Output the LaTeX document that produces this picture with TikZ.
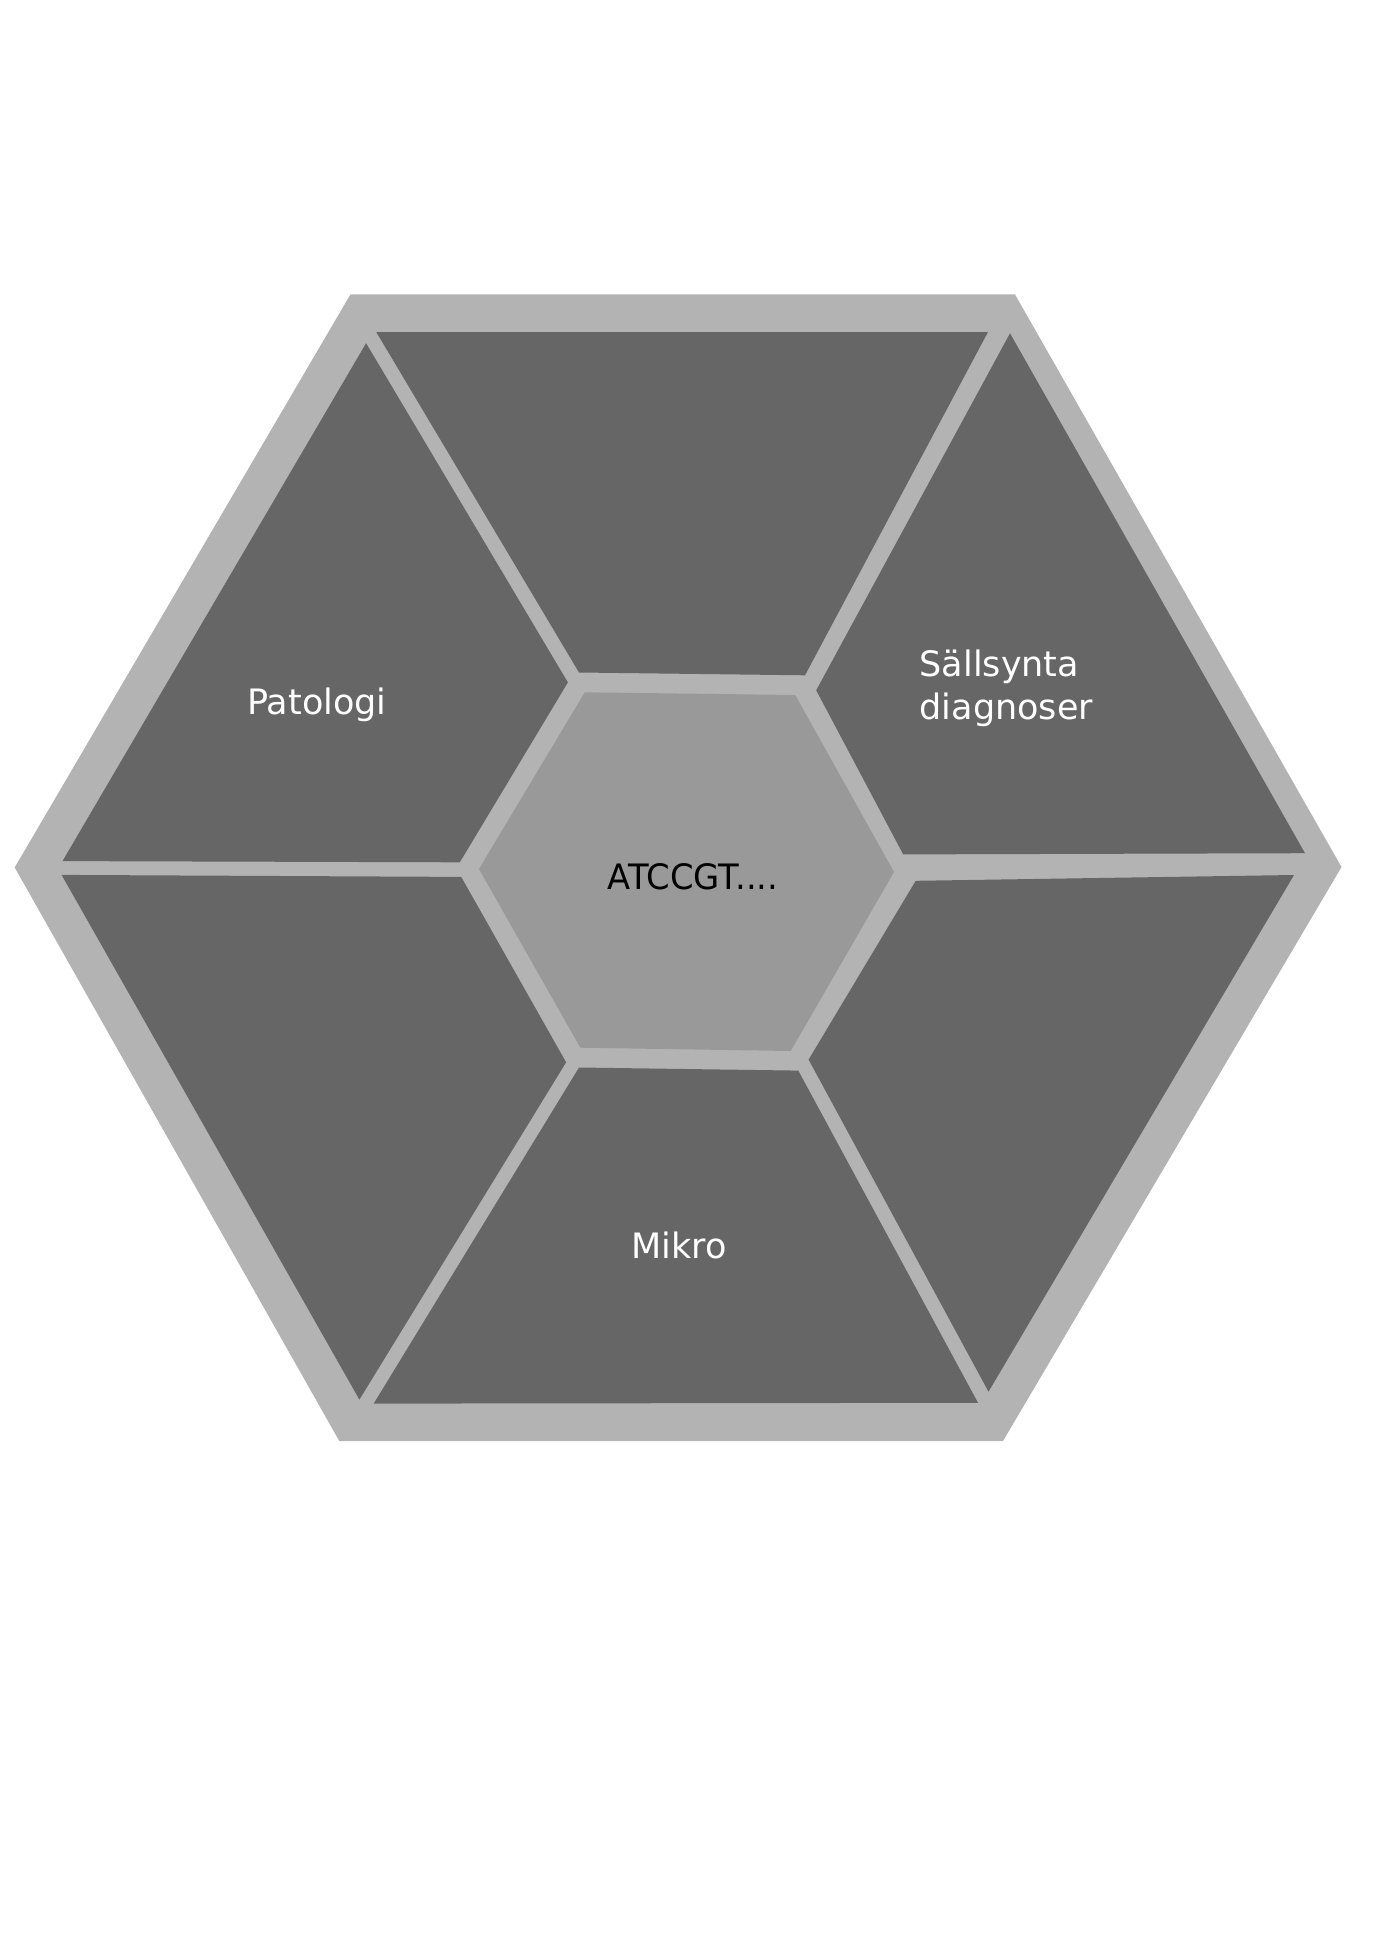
\documentclass[tikz,border=0pt]{standalone}
\usepackage{fontspec}
\setmainfont{DejaVu Sans}
\definecolor{rimgray}{HTML}{B3B3B3}
\definecolor{tilegray}{HTML}{666666}
\definecolor{coregray}{HTML}{999999}
\begin{document}
\begin{tikzpicture}[x=1pt,y=-1pt,
  rim/.style={fill=rimgray},
  tile/.style={fill=tilegray},
  core/.style={fill=coregray},
  label/.style={inner sep=0pt, text=white, font=\fontsize{35}{43.3}\selectfont},
  corelabel/.style={inner sep=0pt, text=black, font=\fontsize{35}{43.3}\selectfont}]
\useasboundingbox[fill=white] (0,0) rectangle (1373,1942);

% outer frame
\fill[rim] (350.4,294.5) -- (1015,294.5) -- (1341.5,867) -- (1003,1441)
  -- (339.3,1441) -- (14.7,867.5) -- cycle;

% six segments around the core
\fill[tile] (376.3,332.1) -- (988,332) -- (805,675.3) -- (579,672.5) -- cycle;
\fill[tile] (1010,333.3) -- (1305,853.2) -- (903.2,854.4) -- (816.2,690.3) -- cycle;
\fill[tile] (915.7,880.8) -- (1294,875) -- (988.5,1391.7) -- (808.6,1059.6) -- cycle;
\fill[tile] (579,1067.5) -- (798.3,1070.6) -- (978,1402.8) -- (373.7,1403.6) -- cycle;
\fill[tile] (61.6,874.9) -- (461.2,876.9) -- (566.1,1062.3) -- (359.4,1399.6) -- cycle;
\fill[tile] (366.1,343.2) -- (567.9,682.4) -- (459.8,862.3) -- (62.5,861.1) -- cycle;

% core hexagon
\fill[core] (584.8,692.3) -- (795.2,695) -- (894,872) -- (790.7,1051)
  -- (580.4,1047.7) -- (479,869) -- cycle;

% labels
\node[label, anchor=base] (patologi) at (317,714) {Patologi};
\node[label, anchor=base west] (sallsynta) at (919.5,676)
  {\parbox[t]{8cm}{\raggedright\baselineskip=43.3pt Sällsynta\\diagnoser}};
\node[label, anchor=base] (mikro) at (679,1258.3) {Mikro};
\node[corelabel, anchor=base] (sequence) at (693,889.3) {\scalebox{0.965}[1]{ATCCGT....}};
\end{tikzpicture}
\end{document}
